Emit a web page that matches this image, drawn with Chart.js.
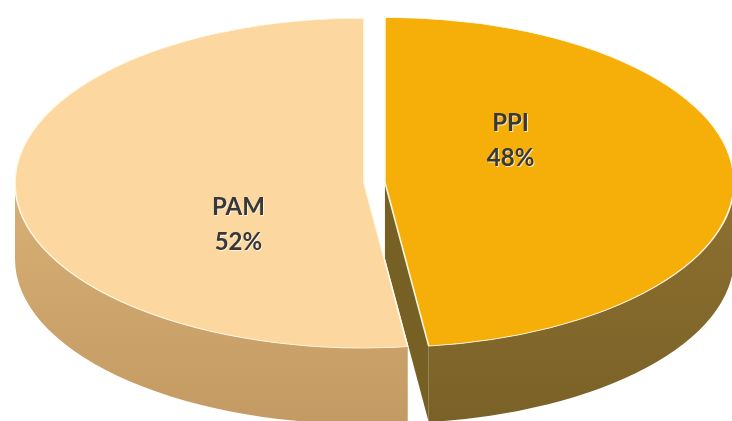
<!DOCTYPE html>
<html>
<head>
<meta charset="utf-8">
<script src="https://cdn.jsdelivr.net/npm/chart.js@4"></script>
<style>
  html, body { margin: 0; background: #fff; }
  #wrap { width: 732px; height: 421px; }
</style>
</head>
<body>
<div id="wrap"><canvas id="chart" width="732" height="421"></canvas></div>
<script>
const categories = ["PPI", "PAM"];
const shares = [48, 52];
const shareLabels = ["48%", "52%"];

// look of the 3d pie
const topColors = ["#f6ae08", "#fcd8a0"];
const wallColors = [["#8e7130", "#7a6127"], ["#d8af74", "#c39a63"]];
const cutColor = "#776024";
const EXPLODED = "PPI";
const CX = 364, CY = 183, RX = 349, RY = 165, DEPTH = 76, EXPLODE_PX = 21;
const LABEL_TURN = -0.55, LABEL_R = 0.44;

function sliceGeometry(chart) {
  return chart.getDatasetMeta(0).data.map((arc, i) => {
    const mid = (arc.startAngle + arc.endAngle) / 2;
    const pull = categories[i] === EXPLODED ? EXPLODE_PX : 0;
    return {
      arc, i, mid, pull,
      ox: CX + pull * Math.cos(mid),
      oy: CY + pull * Math.sin(mid) * RY / RX,
    };
  });
}

const pie3d = {
  id: "pie3d",
  beforeDatasetsDraw(chart) {
    const ctx = chart.ctx;
    const geo = sliceGeometry(chart);

    // cut face of the pulled-out slice
    geo.filter(g => g.pull).forEach(g => {
      const e = g.arc.endAngle;
      const px = g.ox + RX * Math.cos(e), py = g.oy + RY * Math.sin(e);
      ctx.beginPath();
      ctx.moveTo(g.ox, g.oy);
      ctx.lineTo(px, py);
      ctx.lineTo(px, py + DEPTH);
      ctx.lineTo(g.ox, g.oy + DEPTH);
      ctx.closePath();
      ctx.fillStyle = cutColor;
      ctx.fill();
    });

    // front walls (only the half facing us)
    geo.forEach(g => {
      const a0 = Math.max(g.arc.startAngle, 0);
      const a1 = Math.min(g.arc.endAngle, Math.PI);
      if (a1 <= a0) return;
      const grad = ctx.createLinearGradient(0, g.oy, 0, g.oy + RY + DEPTH);
      grad.addColorStop(0, wallColors[g.i][0]);
      grad.addColorStop(1, wallColors[g.i][1]);
      ctx.beginPath();
      ctx.ellipse(g.ox, g.oy, RX, RY, 0, a0, a1, false);
      ctx.ellipse(g.ox, g.oy + DEPTH, RX, RY, 0, a1, a0, true);
      ctx.closePath();
      ctx.fillStyle = grad;
      ctx.fill();
    });

    // top faces: the chart's own arcs, squashed into an ellipse
    geo.forEach(g => {
      const a = g.arc;
      ctx.save();
      ctx.translate(g.ox, g.oy);
      ctx.scale(RX / a.outerRadius, RY / a.outerRadius);
      ctx.translate(-a.x, -a.y);
      a.draw(ctx);
      ctx.restore();
    });
    return false;
  },
  afterDraw(chart) {
    const ctx = chart.ctx;
    ctx.save();
    ctx.font = "bold 24px Lato, 'Open Sans', sans-serif";
    ctx.textAlign = "center";
    ctx.textBaseline = "middle";
    ctx.fillStyle = "#383838";
    ctx.shadowColor = "rgba(255,255,255,0.7)";
    ctx.shadowOffsetX = 1;
    ctx.shadowOffsetY = 1;
    sliceGeometry(chart).forEach(g => {
      const ang = g.mid + LABEL_TURN;
      const x = g.ox + LABEL_R * RX * Math.cos(ang);
      const y = g.oy + LABEL_R * RY * Math.sin(ang);
      ctx.fillText(categories[g.i], x, y - 17);
      ctx.fillText(shareLabels[g.i], x, y + 18);
    });
    ctx.restore();
  },
};

new Chart(document.getElementById("chart"), {
  type: "pie",
  data: {
    labels: categories,
    datasets: [{
      data: shares,
      backgroundColor: topColors,
      borderColor: "rgba(255,250,232,0.95)",
      borderWidth: 1,
    }],
  },
  options: {
    responsive: false,
    animation: false,
    plugins: {
      legend: { display: false },
      tooltip: { enabled: false },
    },
  },
  plugins: [pie3d],
});
</script>
</body>
</html>
